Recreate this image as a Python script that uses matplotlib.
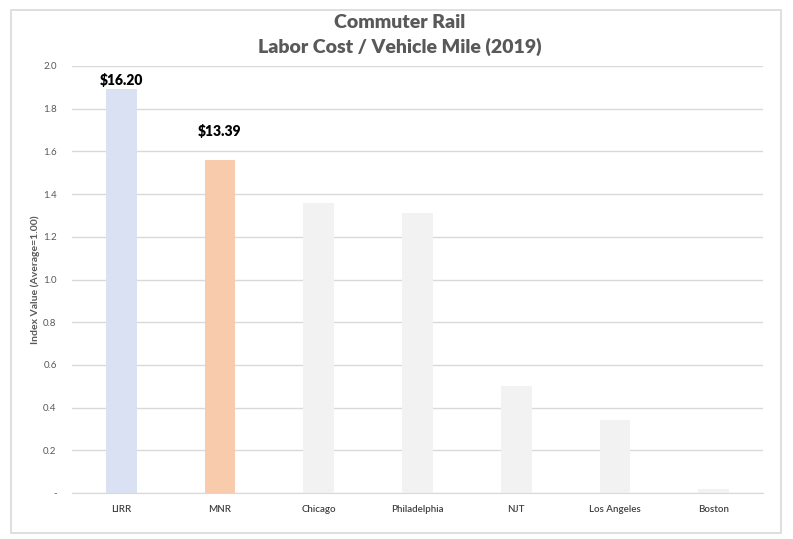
import matplotlib.pyplot as plt
from matplotlib.patches import Rectangle

plt.rcParams['font.family'] = ['Lato', 'DejaVu Sans']

# data
systems = ['LIRR', 'MNR', 'Chicago', 'Philadelphia', 'NJT', 'Los Angeles', 'Boston']
index_values = [1.89, 1.56, 1.36, 1.31, 0.50, 0.34, 0.02]
bar_colors = ['#D9E1F2', '#F8CBAD', '#F2F2F2', '#F2F2F2', '#F2F2F2', '#F2F2F2', '#F2F2F2']
dollar_labels = ['$16.20', '$13.39', '', '', '', '', '']
yticks = [0.0, 0.2, 0.4, 0.6, 0.8, 1.0, 1.2, 1.4, 1.6, 1.8, 2.0]

W, H = 793, 539
fig = plt.figure(figsize=(W / 100, H / 100), dpi=100)

# outer border like the excel chart frame
fig.patches.append(Rectangle((11 / W, 1 - 533 / H), 770 / W, 523 / H,
                             transform=fig.transFigure, fill=False,
                             edgecolor='#D9D9D9', linewidth=1.2))

ax = fig.add_axes([72 / W, 1 - 493 / H, 691 / W, 427 / H])
x = range(len(systems))
bars = ax.bar(x, index_values, width=0.31, color=bar_colors, zorder=2)

# labels over the first two bars
offsets = [2, 16, 0, 0, 0, 0, 0]
for b, lab, off in zip(bars, dollar_labels, offsets):
    if lab:
        ax.annotate(lab, (b.get_x() + b.get_width() / 2, b.get_height()),
                    xytext=(0, off), textcoords='offset points',
                    ha='center', va='bottom', fontsize=10,
                    fontweight='heavy', color='black')

ax.set_xlim(-0.5, len(systems) - 0.5)
ax.set_ylim(0, 2.0)
ax.set_yticks(yticks)
ax.set_yticklabels(['-' if v == 0 else f'{v:.1f}' for v in yticks])
ax.set_xticks(list(x))
ax.set_xticklabels(systems)

ax.grid(axis='y', color='#D9D9D9', linewidth=1, zorder=0)
ax.set_axisbelow(True)
for s in ['top', 'right', 'left']:
    ax.spines[s].set_visible(False)
ax.spines['bottom'].set_color('#D9D9D9')
ax.tick_params(axis='both', length=0)
ax.tick_params(axis='y', labelsize=7, labelcolor='#595959', pad=11)
ax.tick_params(axis='x', labelsize=7, labelcolor='#404040', pad=9)
for t in ax.get_xticklabels():
    t.set_fontweight('semibold')

fig.text(35 / W, 1 - 280 / H, 'Index Value (Average=1.00)', rotation=90,
         ha='center', va='center', fontsize=7.5, fontweight='bold', color='#595959')

fig.text(400 / W, 1 - 23 / H, 'Commuter Rail', ha='center', va='center',
         fontsize=14, fontweight='heavy', color='#595959')
fig.text(400 / W, 1 - 47 / H, 'Labor Cost / Vehicle Mile (2019)', ha='center', va='center',
         fontsize=14, fontweight='heavy', color='#595959')

fig.savefig('out.png', dpi=100)
